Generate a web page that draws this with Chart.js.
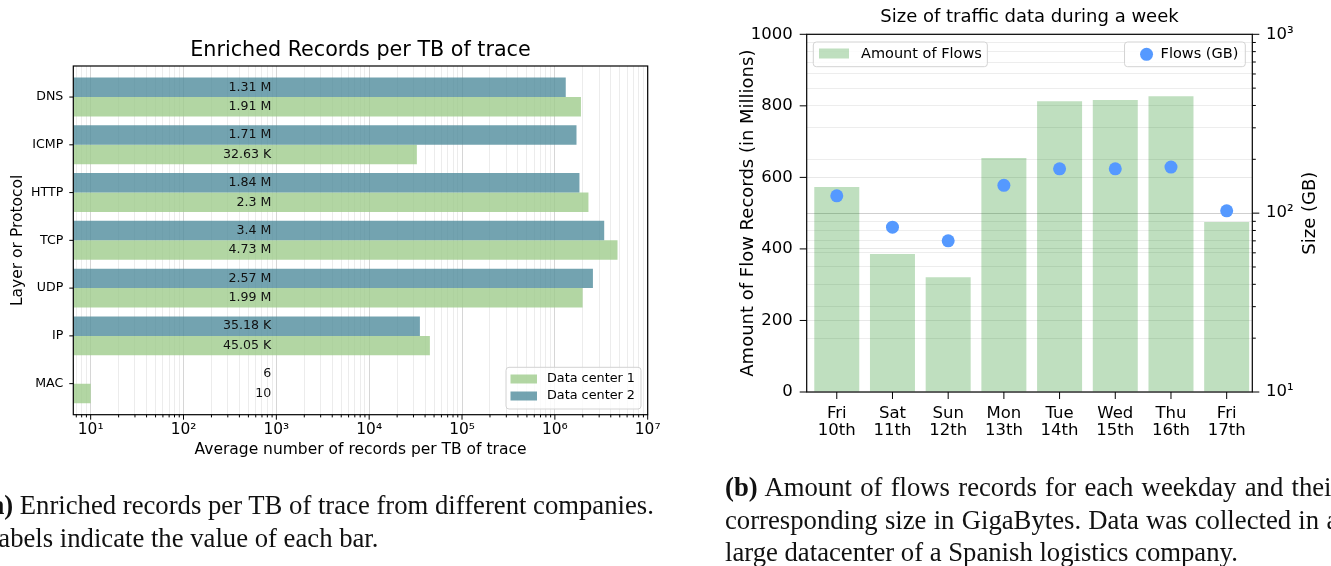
<!DOCTYPE html>
<html>
<head>
  <title>Enriched records and weekly traffic</title>
  <script src="https://cdn.jsdelivr.net/npm/chart.js"></script>
  <style>
    body { margin: 0; width: 1331px; height: 566px; overflow: hidden; background: #fff; position: relative; }
    canvas { position: absolute; left: 0; top: 0; }
    .cap { position: absolute; font-family: 'Liberation Serif', 'Times New Roman', serif; font-size: 26.7px; line-height: 32.5px; white-space: nowrap; color: #111; }
  </style>
</head>
<body>
  <canvas id="recordsChart" width="1331" height="566"></canvas>
  <canvas id="trafficChart" width="1331" height="566"></canvas>
  <div class="cap" style="left:-18px; top:489px"><b>(a)</b> Enriched records per TB of trace from different companies.<br>Labels indicate the value of each bar.</div>
  <div class="cap" style="left:725px; top:471px"><span style="word-spacing:1.6px"><b>(b)</b> Amount of flows records for each weekday and their</span><br><span style="word-spacing:0.6px">corresponding size in GigaBytes. Data was collected in a</span><br>large datacenter of a Spanish logistics company.</div>

  <script>
    // left chart: records per TB of trace
    const protocols = ['DNS', 'ICMP', 'HTTP', 'TCP', 'UDP', 'IP', 'MAC'];
    const dataCenter1 = [1910000, 32630, 2300000, 4730000, 1990000, 45050, 10];
    const dataCenter2 = [1310000, 1710000, 1840000, 3400000, 2570000, 35180, 6];

    // right chart: traffic during a week
    const weekdays = ['Fri', 'Sat', 'Sun', 'Mon', 'Tue', 'Wed', 'Thu', 'Fri'];
    const dates = ['10th', '11th', '12th', '13th', '14th', '15th', '16th', '17th'];
    const flowRecords = [573, 386, 321, 654, 813, 816, 827, 475];
    const flowSizeGB = [125, 83.5, 70, 143, 177, 177, 181, 103];

    const FONT = "'DejaVu Sans', sans-serif";
    const SUP = { '0': '⁰', '1': '¹', '2': '²', '3': '³', '4': '⁴', '5': '⁵', '6': '⁶', '7': '⁷', '8': '⁸', '9': '⁹' };

    function logTicks(min, max) {
      const ticks = [];
      for (let e = Math.floor(Math.log10(min)); e <= Math.ceil(Math.log10(max)); e++) {
        for (let m = 1; m < 10; m++) {
          const v = m * Math.pow(10, e);
          if (v >= min * 0.999 && v <= max * 1.001) ticks.push({ value: v, major: m === 1 });
        }
      }
      return ticks;
    }

    function powLabel(v) {
      const e = Math.log10(v);
      if (Math.abs(e - Math.round(e)) > 1e-9) return '';
      return '10' + String(Math.round(e)).split('').map(c => SUP[c]).join('');
    }

    function shortValue(v) {
      if (v >= 1e6) return +(v / 1e6).toFixed(2) + ' M';
      if (v >= 1e3) return +(v / 1e3).toFixed(2) + ' K';
      return String(v);
    }

    function text(ctx, str, x, y, size, opts = {}) {
      ctx.save();
      ctx.font = size + 'px ' + FONT;
      ctx.fillStyle = opts.color || '#000';
      ctx.textAlign = opts.align || 'center';
      ctx.textBaseline = 'middle';
      ctx.translate(x, y);
      if (opts.rotate) ctx.rotate(opts.rotate);
      ctx.fillText(str, 0, 0);
      ctx.restore();
    }

    function frame(ctx, area) {
      ctx.save();
      ctx.strokeStyle = '#000';
      ctx.lineWidth = 1.2;
      ctx.strokeRect(area.left, area.top, area.right - area.left, area.bottom - area.top);
      ctx.restore();
    }

    function tickMarks(ctx, scale, side, lenFor) {
      const area = scale.chart.chartArea;
      ctx.save();
      ctx.strokeStyle = '#000';
      ctx.lineWidth = 1;
      scale.ticks.forEach(t => {
        const p = scale.getPixelForValue(t.value);
        const len = lenFor(t);
        ctx.beginPath();
        if (side === 'bottom') { ctx.moveTo(p, area.bottom); ctx.lineTo(p, area.bottom + len); }
        else if (side === 'left') { ctx.moveTo(area.left, p); ctx.lineTo(area.left - len, p); }
        else { ctx.moveTo(area.right, p); ctx.lineTo(area.right + len, p); }
        ctx.stroke();
      });
      ctx.restore();
    }

    function legendBox(ctx, x, y, w, h) {
      ctx.save();
      ctx.fillStyle = 'rgba(255,255,255,0.8)';
      ctx.strokeStyle = '#d3d3d3';
      ctx.lineWidth = 1;
      ctx.beginPath();
      if (ctx.roundRect) ctx.roundRect(x, y, w, h, 3); else ctx.rect(x, y, w, h);
      ctx.fill();
      ctx.stroke();
      ctx.restore();
    }

    // ---------- chart (a) ----------
    const recordsDecor = {
      id: 'recordsDecor',
      afterDatasetsDraw(chart) {
        const ctx = chart.ctx, area = chart.chartArea;
        const xs = chart.scales.x, ys = chart.scales.y;
        frame(ctx, area);
        tickMarks(ctx, xs, 'bottom', t => t.major ? 5 : 2.7);
        tickMarks(ctx, ys, 'left', () => 4);

        text(ctx, 'Enriched Records per TB of trace', (area.left + area.right) / 2, 50.5, 20.7);
        text(ctx, 'Average number of records per TB of trace', (area.left + area.right) / 2, 450, 15.5);
        text(ctx, 'Layer or Protocol', 18, (area.top + area.bottom) / 2, 15.5, { rotate: -Math.PI / 2 });

        // value labels
        const labelX = xs.getPixelForValue(1000) - 5;
        chart.data.datasets.forEach((ds, di) => {
          chart.getDatasetMeta(di).data.forEach((bar, i) => {
            text(ctx, shortValue(ds.data[i].x), labelX, bar.y, 12.6, { align: 'right', color: '#111' });
          });
        });

        // legend, lower right
        const items = [chart.data.datasets[1], chart.data.datasets[0]];
        legendBox(ctx, 506, 367.3, 135, 41.7);
        items.forEach((ds, i) => {
          const cy = 379 + i * 17;
          ctx.fillStyle = ds.backgroundColor;
          ctx.fillRect(510.5, cy - 4.5, 26.5, 9);
          text(ctx, ds.label, 547, cy, 12.8, { align: 'left' });
        });
      }
    };

    new Chart(document.getElementById('recordsChart'), {
      type: 'bar',
      data: {
        datasets: [
          {
            label: 'Data center 2',
            data: dataCenter2.map((v, i) => ({ x: v, y: i })),
            backgroundColor: 'rgba(80,140,156,0.8)',
            categoryPercentage: 0.816,
            barPercentage: 1,
            clip: 0
          },
          {
            label: 'Data center 1',
            data: dataCenter1.map((v, i) => ({ x: v, y: i })),
            backgroundColor: 'rgba(159,204,140,0.8)',
            categoryPercentage: 0.816,
            barPercentage: 1,
            clip: 0
          }
        ]
      },
      options: {
        indexAxis: 'y',
        responsive: false,
        animation: false,
        devicePixelRatio: 1,
        layout: { padding: { left: 0, right: 1331 - 647.7, top: 66, bottom: 566 - 414.7 - 60 } },
        plugins: { legend: { display: false }, tooltip: { enabled: false } },
        scales: {
          x: {
            type: 'logarithmic',
            position: 'bottom',
            min: 6.5,
            max: 1e7,
            afterBuildTicks: s => { s.ticks = logTicks(6.5, 1e7); },
            afterFit: s => { s.height = 60; },
            border: { display: false },
            grid: {
              drawTicks: false,
              color: c => (c.tick && c.tick.major ? '#d6d6d6' : '#ececec'),
              lineWidth: 1
            },
            ticks: {
              autoSkip: false,
              maxRotation: 0,
              padding: 6,
              color: '#000',
              font: { family: FONT, size: 15.4 },
              callback: v => powLabel(v)
            }
          },
          y: {
            type: 'linear',
            position: 'left',
            min: -0.65,
            max: 6.65,
            reverse: true,
            offset: false,
            afterBuildTicks: s => { s.ticks = protocols.map((p, i) => ({ value: i })); },
            afterFit: s => { s.width = 73.3; },
            border: { display: false },
            grid: { display: false, drawTicks: false },
            ticks: {
              padding: 10,
              color: '#000',
              font: { family: FONT, size: 12.6 },
              callback: v => protocols[v]
            }
          }
        }
      },
      plugins: [recordsDecor]
    });

    // ---------- chart (b) ----------
    const trafficDecor = {
      id: 'trafficDecor',
      afterDatasetsDraw(chart) {
        const ctx = chart.ctx, area = chart.chartArea;
        frame(ctx, area);
        tickMarks(ctx, chart.scales.x, 'bottom', () => 7);
        tickMarks(ctx, chart.scales.y, 'left', () => 7);
        tickMarks(ctx, chart.scales.y2, 'right', t => t.major ? 7 : 3.5);

        const cy = (area.top + area.bottom) / 2;
        text(ctx, 'Size of traffic data during a week', (area.left + area.right) / 2, 17.3, 18);
        text(ctx, 'Amount of Flow Records (in Millions)', 748, cy, 18, { rotate: -Math.PI / 2 });
        text(ctx, 'Size (GB)', 1310, cy, 18, { rotate: -Math.PI / 2 });

        const bars = chart.data.datasets[1], dots = chart.data.datasets[0];
        ctx.save();
        ctx.font = '14.5px ' + FONT;
        const w1 = ctx.measureText(bars.label).width, w2 = ctx.measureText(dots.label).width;
        ctx.restore();

        // bar legend, upper left
        const l1 = area.left + 6.6;
        legendBox(ctx, l1, 42, 5.7 + 30 + 12 + w1 + 5.5, 24.7);
        ctx.fillStyle = bars.backgroundColor;
        ctx.fillRect(l1 + 5.7, 48.5, 30, 10);
        text(ctx, bars.label, l1 + 47.7, 54.3, 14.5, { align: 'left' });

        // point legend, upper right
        const bw = 36 + w2 + 7;
        const l2 = area.right - 7 - bw;
        legendBox(ctx, l2, 42, bw, 24.7);
        ctx.fillStyle = dots.backgroundColor;
        ctx.beginPath();
        ctx.arc(l2 + 22, 54.3, 6.5, 0, Math.PI * 2);
        ctx.fill();
        text(ctx, dots.label, l2 + 36, 54.3, 14.5, { align: 'left' });
      }
    };

    new Chart(document.getElementById('trafficChart'), {
      type: 'bar',
      data: {
        datasets: [
          {
            type: 'scatter',
            label: 'Flows (GB)',
            data: flowSizeGB.map((v, i) => ({ x: i, y: v })),
            yAxisID: 'y2',
            backgroundColor: '#5599ff',
            borderWidth: 0,
            pointRadius: 6.5,
            order: 1
          },
          {
            type: 'bar',
            label: 'Amount of Flows',
            data: flowRecords.map((v, i) => ({ x: i, y: v })),
            yAxisID: 'y',
            backgroundColor: 'rgba(0,128,0,0.25)',
            categoryPercentage: 0.808,
            barPercentage: 1,
            order: 2
          }
        ]
      },
      options: {
        responsive: false,
        animation: false,
        devicePixelRatio: 1,
        layout: { padding: { left: 700, right: 8.7, top: 34.3, bottom: 114 } },
        plugins: { legend: { display: false }, tooltip: { enabled: false } },
        scales: {
          x: {
            type: 'linear',
            position: 'bottom',
            min: -0.54,
            max: 7.46,
            offset: false,
            afterBuildTicks: s => { s.ticks = weekdays.map((d, i) => ({ value: i })); },
            afterFit: s => { s.height = 60; },
            border: { display: false },
            grid: { display: false, drawTicks: false, offset: false },
            ticks: {
              autoSkip: false,
              maxRotation: 0,
              padding: 12.7,
              color: '#000',
              font: { family: FONT, size: 16.5, lineHeight: 1.07 },
              callback: v => [weekdays[v], dates[v]]
            }
          },
          y: {
            type: 'linear',
            position: 'left',
            min: 0,
            max: 1000,
            afterBuildTicks: s => { s.ticks = [0, 200, 400, 600, 800, 1000].map(v => ({ value: v })); },
            afterFit: s => { s.width = 106.7; },
            border: { display: false },
            grid: { drawTicks: false, color: '#e8e8e8' },
            ticks: { padding: 14, color: '#000', font: { family: FONT, size: 16.5 }, callback: v => String(v) }
          },
          y2: {
            type: 'logarithmic',
            position: 'right',
            min: 10,
            max: 1000,
            afterBuildTicks: s => { s.ticks = logTicks(10, 1000); },
            afterFit: s => { s.width = 70; },
            border: { display: false },
            grid: {
              drawTicks: false,
              color: c => (c.tick && c.tick.value === 100 ? '#cfcfcf' : '#ededed')
            },
            ticks: {
              autoSkip: false,
              padding: 13.7,
              color: '#000',
              font: { family: FONT, size: 16.5 },
              callback: v => powLabel(v)
            }
          }
        }
      },
      plugins: [trafficDecor]
    });
  </script>
</body>
</html>
